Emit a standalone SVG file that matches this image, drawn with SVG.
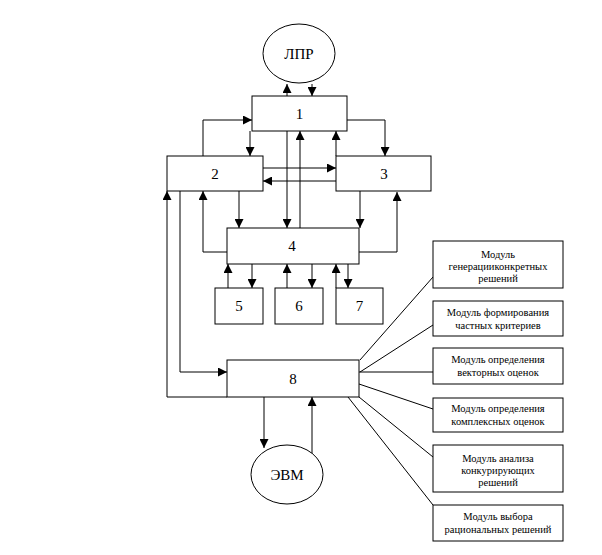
<svg xmlns="http://www.w3.org/2000/svg" width="602" height="555" viewBox="0 0 602 555">
<defs><marker id="a" viewBox="0 0 10 10" refX="10" refY="5" markerWidth="10" markerHeight="9" markerUnits="userSpaceOnUse" orient="auto"><path d="M0,0L10,5L0,10z" fill="#000"/></marker></defs>
<style>rect,ellipse{fill:#fff;stroke:#000;stroke-width:1}
rect.bg{stroke:none}
.c path,.c line{fill:none;stroke:#000;stroke-width:1}
.ar{marker-end:url(#a)}
text{font-family:"Liberation Serif",serif;text-anchor:middle;fill:#000}
.n{font-size:15px}.m{font-size:10.5px}</style>
<rect class="bg" width="602" height="555"/>
<g class="c">
<line class="ar" x1="287" y1="96" x2="287" y2="84"/>
<line class="ar" x1="312" y1="84" x2="312" y2="96"/>
<path class="ar" d="M203,156V120H252"/>
<line class="ar" x1="250" y1="131" x2="250" y2="156"/>
<path class="ar" d="M347,120H385V156"/>
<line class="ar" x1="336" y1="156" x2="336" y2="131"/>
<line class="ar" x1="287" y1="131" x2="287" y2="228"/>
<line class="ar" x1="300" y1="228" x2="300" y2="131"/>
<line class="ar" x1="263" y1="168" x2="336" y2="168"/>
<line class="ar" x1="336" y1="181" x2="263" y2="181"/>
<line class="ar" x1="239" y1="191" x2="239" y2="228"/>
<path class="ar" d="M227,252H203V191"/>
<line class="ar" x1="360" y1="191" x2="360" y2="228"/>
<path class="ar" d="M359,252H397V192"/>
<line class="ar" x1="228" y1="288" x2="228" y2="264"/>
<line class="ar" x1="252" y1="264" x2="252" y2="288"/>
<line class="ar" x1="287" y1="288" x2="287" y2="264"/>
<line class="ar" x1="312" y1="264" x2="312" y2="288"/>
<line class="ar" x1="336" y1="288" x2="336" y2="264"/>
<line class="ar" x1="348" y1="264" x2="348" y2="288"/>
<path class="ar" d="M227,397H167V191"/>
<path class="ar" d="M180,191V372H227"/>
<line class="ar" x1="264" y1="397" x2="264" y2="448"/>
<line class="ar" x1="312" y1="458" x2="312" y2="397"/>
<line x1="360" y1="360" x2="433" y2="277"/>
<line x1="360" y1="372" x2="433" y2="325"/>
<line x1="359" y1="372" x2="433" y2="372"/>
<line x1="359" y1="384" x2="433" y2="409"/>
<line x1="359" y1="397" x2="433" y2="457"/>
<line x1="348" y1="397" x2="433" y2="505"/>
</g>
<g id="lpr"><ellipse cx="299" cy="53.5" rx="36" ry="29.5"/><text class="n" x="299" y="59">ЛПР</text></g>
<g id="n1"><rect x="252" y="96" width="95" height="35"/><text class="n" x="299.5" y="119">1</text></g>
<g id="n2"><rect x="167" y="156" width="96" height="35"/><text class="n" x="215" y="179">2</text></g>
<g id="n3"><rect x="336" y="156" width="95" height="35"/><text class="n" x="384" y="179">3</text></g>
<g id="n4"><rect x="227" y="228" width="132" height="36"/><text class="n" x="292" y="251">4</text></g>
<g id="n5"><rect x="215" y="288" width="48" height="36"/><text class="n" x="239" y="311">5</text></g>
<g id="n6"><rect x="275" y="288" width="48" height="36"/><text class="n" x="299" y="311">6</text></g>
<g id="n7"><rect x="336" y="288" width="47" height="36"/><text class="n" x="359.5" y="311">7</text></g>
<g id="n8"><rect x="227" y="360" width="132" height="37"/><text class="n" x="293" y="384">8</text></g>
<g id="evm"><ellipse cx="287" cy="474.5" rx="36" ry="29.5"/><text class="n" x="287" y="480">ЭВМ</text></g>
<g id="mA"><rect x="433" y="241" width="130" height="47"/><text class="m" x="498" y="258">Модуль</text><text class="m" x="498" y="270">генерацииконкретных</text><text class="m" x="498" y="282">решений</text></g>
<g id="mB"><rect x="433" y="301" width="130" height="35"/><text class="m" x="498" y="316">Модуль формирования</text><text class="m" x="498" y="329">частных критериев</text></g>
<g id="mC"><rect x="433" y="348" width="130" height="36"/><text class="m" x="498" y="363">Модуль определения</text><text class="m" x="498" y="376">векторных оценок</text></g>
<g id="mD"><rect x="433" y="398" width="130" height="34"/><text class="m" x="498" y="412">Модуль определения</text><text class="m" x="498" y="425">комплексных оценок</text></g>
<g id="mE"><rect x="433" y="445" width="130" height="47"/><text class="m" x="498" y="462">Модуль анализа</text><text class="m" x="498" y="474">конкурирующих</text><text class="m" x="498" y="486">решений</text></g>
<g id="mF"><rect x="433" y="505" width="130" height="36"/><text class="m" x="498" y="520">Модуль выбора</text><text class="m" x="498" y="533">рациональных решений</text></g>
</svg>
